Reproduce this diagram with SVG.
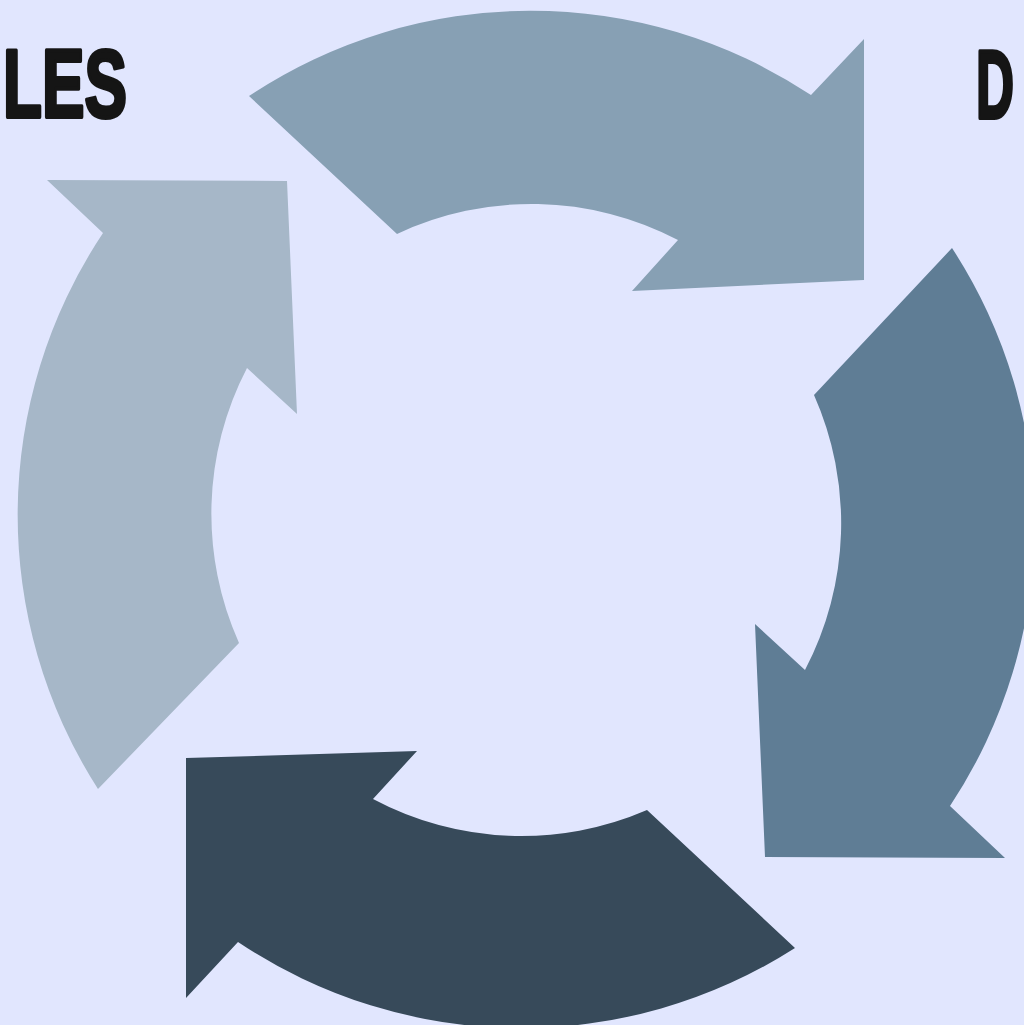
<svg xmlns="http://www.w3.org/2000/svg" width="1024" height="1025" viewBox="0 0 1024 1025">
<style>
.lbl{font-family:"Liberation Sans","DejaVu Sans",sans-serif;font-weight:bold;font-size:96px;fill:#151515;stroke:#151515;stroke-width:4;stroke-linejoin:round}
</style>
<rect width="1024" height="1025" fill="#E1E6FE"/>
<g id="connectors">
<g id="arrow-top">
<path fill="#87A0B4" d="M249,96 A508,508 0 0 1 811,95 L864,39 L864,280 L632,291 L678,240 A316,316 0 0 0 397,234 Z"/>
</g>
<g id="arrow-right">
<path fill="#5F7D95" d="M952,248 A508,508 0 0 1 950,806 L1005,858 L765,857 L755,624 L805,670 A316,316 0 0 0 814,395 Z"/>
</g>
<g id="arrow-bottom">
<path fill="#374A5A" d="M795,948 A508,508 0 0 1 238,942 L186,998 L186,758 L417,751 L373,799 A316,316 0 0 0 647,810 Z"/>
</g>
<g id="arrow-left">
<path fill="#A6B7C8" d="M98,789 A508,508 0 0 1 103,233 L47,180 L287,181 L297,414 L247,368 A316,316 0 0 0 239,643 Z"/>
</g>
</g>
<g id="label-les">
<text class="lbl" x="3" y="117" textLength="124" lengthAdjust="spacingAndGlyphs">LES</text>
</g>
<g id="label-d">
<text class="lbl" x="976" y="118" textLength="38" lengthAdjust="spacingAndGlyphs">D</text>
</g>
</svg>
